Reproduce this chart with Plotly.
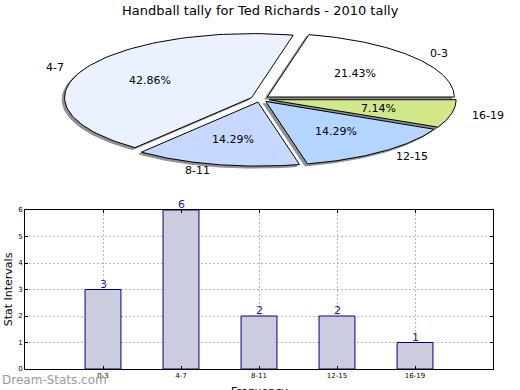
import numpy as np
import plotly.graph_objects as go

title = "Handball tally for Ted Richards - 2010 tally"
categories = ["0-3", "4-7", "8-11", "12-15", "16-19"]
counts = [3, 6, 2, 2, 1]
pie_colors = ["#ffffff", "#eaf1ff", "#c6d8ff", "#b3d5ff", "#cfe88a"]
y_ticks = [0, 1, 2, 3, 4, 5, 6]

W, H = 520, 390
CX, CY = 260, 99           # pie centre in pixels
RX, RY = 187, 64           # pie radii in pixels
EXPLODE = 0.05

fig = go.Figure()

# ---- pie drawn on its own cartesian axes (elliptical, exploded, shadowed)
total = float(sum(counts))
fracs = [c / total for c in counts]
starts = np.cumsum([0] + fracs[:-1]) * 360.0
sh_dx, sh_dy = -2.5 / RX, -2.0 / RY

def wedge(a0, a1, ox, oy):
    t = np.radians(np.linspace(a0, a1, 80))
    xs = np.concatenate([[ox], ox + np.cos(t), [ox]])
    ys = np.concatenate([[oy], oy + np.sin(t), [oy]])
    return xs, ys

geo = []
for i, f in enumerate(fracs):
    a0 = starts[i]
    a1 = a0 + f * 360.0
    mid = np.radians((a0 + a1) / 2)
    ox, oy = EXPLODE * np.cos(mid), EXPLODE * np.sin(mid)
    geo.append((a0, a1, mid, ox, oy))

for (a0, a1, mid, ox, oy) in geo:
    xs, ys = wedge(a0, a1, ox + sh_dx, oy + sh_dy)
    fig.add_trace(go.Scatter(x=xs, y=ys, mode="lines", fill="toself",
                             fillcolor="#909090", line=dict(color="#909090", width=1),
                             xaxis="x2", yaxis="y2", hoverinfo="skip", showlegend=False))
for i, (a0, a1, mid, ox, oy) in enumerate(geo):
    xs, ys = wedge(a0, a1, ox, oy)
    fig.add_trace(go.Scatter(x=xs, y=ys, mode="lines", fill="toself",
                             fillcolor=pie_colors[i], line=dict(color="#000000", width=1),
                             xaxis="x2", yaxis="y2", hoverinfo="skip", showlegend=False))

for i, (a0, a1, mid, ox, oy) in enumerate(geo):
    lx = ox + 1.1 * np.cos(mid)
    ly = oy + 1.1 * np.sin(mid)
    fig.add_annotation(x=lx, y=ly, xref="x2", yref="y2", text=categories[i],
                       showarrow=False, xanchor="left" if np.cos(mid) > 0 else "right",
                       yanchor="middle", font=dict(size=11, color="#000000"))
    px = ox + 0.6 * np.cos(mid)
    py = oy + 0.6 * np.sin(mid)
    fig.add_annotation(x=px, y=py, xref="x2", yref="y2",
                       text="%.2f%%" % (fracs[i] * 100), showarrow=False,
                       xanchor="center", yanchor="middle",
                       font=dict(size=11, color="#000000"))

# ---- bar chart
fig.add_trace(go.Bar(x=categories, y=counts, width=0.46,
                     marker=dict(color="#ccccdf", line=dict(color="#000080", width=1)),
                     xaxis="x", yaxis="y", showlegend=False, hoverinfo="skip"))
for c, v in zip(categories, counts):
    fig.add_annotation(x=c, y=v, xref="x", yref="y", text=str(v), showarrow=False,
                       xanchor="center", yanchor="bottom", yshift=-3,
                       font=dict(size=11, color="#1a1a9a"))

pie_top_px = 200
fig.update_layout(
    width=W, height=H,
    margin=dict(l=0, r=0, t=0, b=0, pad=0, autoexpand=False),
    paper_bgcolor="white", plot_bgcolor="white",
    font=dict(family="DejaVu Sans", color="#000000"),
    xaxis2=dict(domain=[0, 1], range=[-CX / RX, (W - CX) / RX], visible=False,
                anchor="y2", fixedrange=True),
    yaxis2=dict(domain=[(H - pie_top_px) / H, 1],
                range=[-(pie_top_px - CY) / RY, CY / RY], visible=False,
                anchor="x2", fixedrange=True),
    xaxis=dict(domain=[25 / W, 493 / W], type="category", range=[-1, 5],
               anchor="y", showgrid=True, gridcolor="#b8b8b8", griddash="2px,2px",
               gridwidth=1, showline=True, linecolor="#000000", linewidth=1,
               mirror="ticks", ticks="inside", ticklen=3, tickcolor="#000000",
               tickfont=dict(size=7), layer="above traces", zeroline=False,
               automargin=False),
    yaxis=dict(domain=[(H - 369) / H, (H - 210) / H], range=[0, 6],
               tickvals=y_ticks, anchor="x", showgrid=True, gridcolor="#b8b8b8",
               griddash="2px,2px", gridwidth=1, showline=True, linecolor="#000000",
               linewidth=1, mirror="ticks", ticks="inside", ticklen=3,
               tickcolor="#000000", tickfont=dict(size=7), layer="above traces",
               zeroline=False, automargin=False,
               title=dict(text="Stat Intervals", font=dict(size=11), standoff=3)),
)

fig.add_annotation(x=0.5, y=1 - 10 / H, xref="paper", yref="paper", text=title,
                   showarrow=False, xanchor="center", yanchor="middle",
                   font=dict(size=13, color="#000000"))
fig.add_annotation(x=259 / W, y=(H - 383) / H, xref="paper", yref="paper",
                   text="Frequency", showarrow=False, xanchor="center", yanchor="top",
                   font=dict(size=11, color="#000000"))
fig.add_annotation(x=0, y=(H - 380) / H, xref="paper", yref="paper",
                   text="Dream-Stats.com", showarrow=False, xanchor="left",
                   yanchor="middle", font=dict(size=12, color="#9a9a9a"))

fig.write_html("out.html", config={"displayModeBar": False, "responsive": False},
               post_script="document.body.style.margin='0';"
                           "document.body.style.overflow='hidden';")
